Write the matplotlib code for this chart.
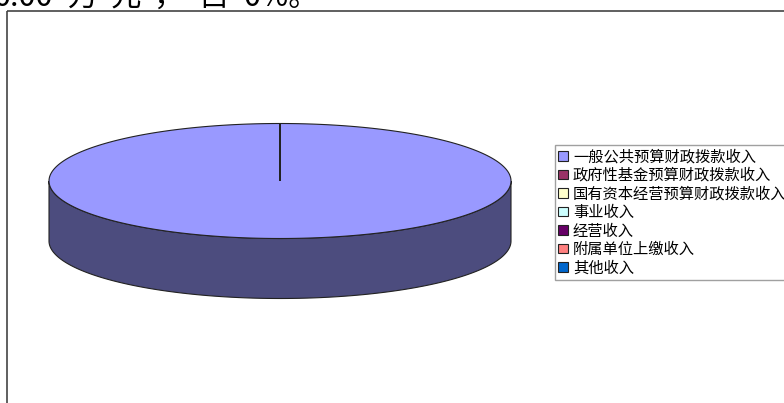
import numpy as np
import matplotlib
matplotlib.use("Agg")
import matplotlib.pyplot as plt
from matplotlib.patches import Polygon, Rectangle, Patch

plt.rcParams['font.family'] = ['Noto Sans CJK SC', 'DejaVu Sans']

labels = ["一般公共预算财政拨款收入", "政府性基金预算财政拨款收入",
          "国有资本经营预算财政拨款收入", "事业收入", "经营收入",
          "附属单位上缴收入", "其他收入"]
values = [100.0, 0, 0, 0, 0, 0, 0]
colors = ["#9999FF", "#993366", "#FFFFCC", "#CCFFFF", "#660066", "#FF8080", "#0066CC"]
side_colors = ["#4C4C7E", "#4C1933", "#7F7F66", "#667F7F", "#330033", "#7F4040", "#003366"]
top_text = ["0.00", "万", "元", "，", "占", "0%。"]

fig = plt.figure(figsize=(7.84, 4.03), dpi=100)
ax = fig.add_axes([0, 0, 1, 1])
ax.set_xlim(0, 784)
ax.set_ylim(403, 0)
ax.axis("off")

# frame of the chart area
ax.add_patch(Rectangle((7.5, 10.5), 800, 420, fill=False, edgecolor="#444444", lw=1.2))

# clipped text line above the chart (wide character spacing)
text_x = [53, 68, 111, 154, 198, 244]
for x, s in zip(text_x, top_text):
    ax.text(x, 6, s, fontsize=22, va="baseline",
            ha="right" if s == "0.00" else "left", color="black")

# 3D pie geometry
cx, cy, a, b, depth = 280, 181, 231, 57.5, 60


def pt(t, dy=0):
    return cx + a * np.cos(t), cy - b * np.sin(t) + dy


total = sum(values)
start = np.pi / 2
wedges = []
for v in values:
    sweep = 2 * np.pi * v / total
    wedges.append((start - sweep, start))
    start -= sweep

# side faces (front half, angles in pi..2pi)
for (t1, t2), sc in zip(wedges, side_colors):
    for k in range(-1, 2):
        lo = max(t1, np.pi + 2 * np.pi * k)
        hi = min(t2, 2 * np.pi + 2 * np.pi * k)
        if hi - lo <= 1e-9:
            continue
        ts = np.linspace(lo, hi, 200)
        top = [pt(t) for t in ts]
        bot = [pt(t, depth) for t in ts[::-1]]
        ax.add_patch(Polygon(top + bot, closed=True, facecolor=sc,
                             edgecolor="#222222", lw=0.8))

# top faces
for (t1, t2), c in zip(wedges, colors):
    if t2 - t1 <= 1e-9:
        continue
    ts = np.linspace(t1, t2, 400)
    poly = [(cx, cy)] + [pt(t) for t in ts]
    ax.add_patch(Polygon(poly, closed=True, facecolor=c, edgecolor="#222222", lw=0.8))

handles = [Patch(facecolor=c, edgecolor="#222222", lw=0.8) for c in colors]
leg = ax.legend(handles, labels, loc="upper left",
                bbox_to_anchor=(555 / 784, 1 - 145 / 403),
                bbox_transform=fig.transFigure, borderaxespad=0,
                fontsize=11, frameon=True, fancybox=False,
                handlelength=0.6, handleheight=0.6, handletextpad=0.35,
                labelspacing=0.1, borderpad=0.22)
leg.get_frame().set_edgecolor("#888888")
leg.get_frame().set_linewidth(1.0)

fig.savefig("out.png", dpi=100)
